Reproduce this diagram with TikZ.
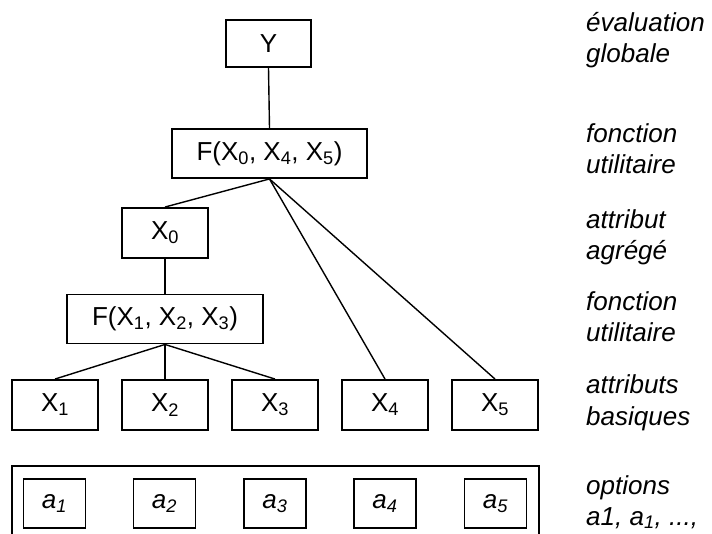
\documentclass[tikz,border=0pt]{standalone}
\usepackage{fontspec}
\setmainfont{Liberation Sans}
\begin{document}
\begin{tikzpicture}[x=1pt,y=-1pt,
  box/.style={draw, line width=1.9pt, inner sep=0pt, font=\fontsize{26}{30}\selectfont},
  xbox/.style={box, minimum width=86pt, minimum height=50pt},
  abox/.style={box, minimum width=62pt, minimum height=49pt, font=\fontsize{26}{30}\selectfont\itshape},
  fbox/.style={box, minimum width=195pt, minimum height=49pt},
  conn/.style={line width=1.4pt},
  lbl/.style={anchor=base west, inner sep=0pt, font=\fontsize{26}{30}\selectfont\itshape}]
\useasboundingbox (0,0) rectangle (712,534);

% tree
\node[box, minimum width=85pt, minimum height=47pt] (Y) at (268.5,43.5) {Y};
\node[fbox] (F1) at (269.5,153.5) {F(X\textsubscript{0}, X\textsubscript{4}, X\textsubscript{5})};
\node[xbox] (X0) at (165,233) {X\textsubscript{0}};
\node[fbox, minimum width=196pt] (F2) at (165,319) {F(X\textsubscript{1}, X\textsubscript{2}, X\textsubscript{3})};
\node[xbox] (X1) at (55,405) {X\textsubscript{1}};
\node[xbox] (X2) at (165,405) {X\textsubscript{2}};
\node[xbox] (X3) at (275,405) {X\textsubscript{3}};
\node[xbox] (X4) at (385,405) {X\textsubscript{4}};
\node[xbox] (X5) at (495,405) {X\textsubscript{5}};

\draw[conn] (Y.south) -- (F1.north);
\draw[conn] (F1.south) -- (X0.north);
\draw[conn] (F1.south) -- (X4.north);
\draw[conn] (F1.south) -- (X5.north);
\draw[conn] (X0.south) -- (F2.north);
\draw[conn] (F2.south) -- (X1.north);
\draw[conn] (F2.south) -- (X2.north);
\draw[conn] (F2.south) -- (X3.north);

% options
\draw[line width=1.9pt] (12,536) |- (539,466) -- (539,536);
\node[abox] (a1) at (54.5,503.5) {a\textsubscript{1}};
\node[abox] (a2) at (164.5,503.5) {a\textsubscript{2}};
\node[abox] (a3) at (275,503.5) {a\textsubscript{3}};
\node[abox] (a4) at (385,503.5) {a\textsubscript{4}};
\node[abox] (a5) at (495.5,503.5) {a\textsubscript{5}};

% right-hand labels
\node[lbl] (l1a) at (586,32) {évaluation};
\node[lbl] (l1b) at (586,63) {globale};
\node[lbl] (l2a) at (586,143) {fonction};
\node[lbl] (l2b) at (586,174) {utilitaire};
\node[lbl] (l3a) at (586,229) {attribut};
\node[lbl] (l3b) at (586,260) {agrégé};
\node[lbl] (l4a) at (586,311) {fonction};
\node[lbl] (l4b) at (586,342) {utilitaire};
\node[lbl] (l5a) at (586,394) {attributs};
\node[lbl] (l5b) at (586,425) {basiques};
\node[lbl] (l6a) at (586,494) {options};
\node[lbl] (l6b) at (586,525) {a1, a\textsubscript{1}, ...,};
\end{tikzpicture}
\end{document}
